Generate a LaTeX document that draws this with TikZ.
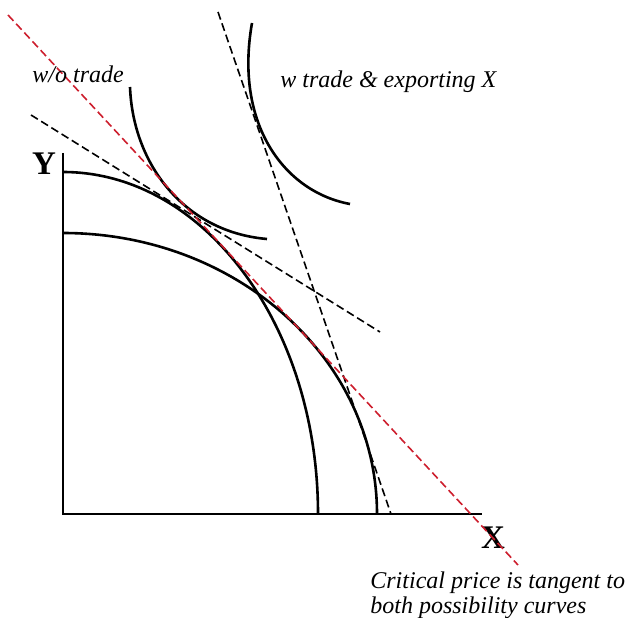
\documentclass[tikz,border=0pt]{standalone}
\usepackage{fontspec}
\setmainfont{Liberation Serif}
\usepackage{tikz}
\definecolor{cred}{RGB}{205,30,45}

\begin{document}
\begin{tikzpicture}[x=0.5pt, y=0.5pt,
  curve/.style={line width=1.3pt},
  axis/.style={line width=1.3pt},
  price/.style={line width=0.8pt, dash pattern=on 4pt off 2pt},
  crit/.style={price, draw=cred},
  lbl/.style={font=\fontsize{12}{12.5}\selectfont\itshape, inner sep=0pt},
  axl/.style={font=\fontsize{16.5}{18}\selectfont\bfseries, inner sep=0pt}
]
  \useasboundingbox (0,0) rectangle (626,617);

  % axes
  \coordinate (o) at (63,103);
  \coordinate (ytop) at (63,464);
  \coordinate (xend) at (482,103);
  \draw[axis] (ytop) -- (o) -- (xend);
  \node[axl] (ylab) at (44,453) {Y};
  \node[axl] (xlab) at (493,79) {X};

  % production possibility curves
  \draw[curve] (63,445) arc[start angle=90, end angle=0, x radius=255, y radius=342];
  \draw[curve] (63,384) arc[start angle=90, end angle=0, x radius=314, y radius=281];

  % indifference curves
  \draw[curve] (130,530) .. controls (133,452) and (185,385) .. (267,378);
  \draw[curve] (252,594) .. controls (234,492) and (285,425) .. (350,413);

  % price lines
  \coordinate (a1) at (31,502);
  \coordinate (a2) at (380,285);
  \draw[price] (a1) -- (a2);
  \coordinate (t1) at (218,605);
  \coordinate (t2) at (391,103);
  \draw[price] (t1) -- (t2);
  \coordinate (c1) at (8,602);
  \coordinate (c2) at (518,52);
  \draw[crit] (c1) -- (c2);

  % labels
  \node[lbl, anchor=base west] (wo) at (32,534) {w/o trade};
  \node[lbl, anchor=base west] (wt) at (280,529) {w trade \& exporting X};
  \node[lbl, anchor=base west, align=left] (cp) at (370,4)
    {Critical price is tangent to\\both possibility curves};
\end{tikzpicture}
\end{document}
